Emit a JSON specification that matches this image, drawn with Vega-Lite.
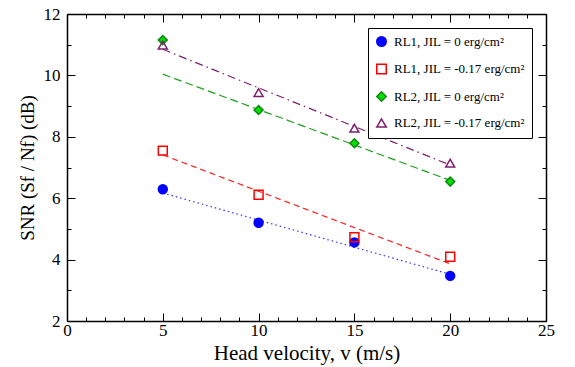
{
  "$schema": "https://vega.github.io/schema/vega-lite/v6.json",
  "autosize": "none",
  "width": 479,
  "height": 307,
  "padding": {"left": 67, "top": 14, "right": 29, "bottom": 46},
  "background": "white",
  "config": {
    "view": {"stroke": null},
    "font": "Liberation Serif",
    "axis": {
      "domainColor": "black",
      "domainWidth": 1.5,
      "tickColor": "black",
      "tickWidth": 1,
      "grid": false,
      "labelFont": "Liberation Serif",
      "labelColor": "black",
      "titleFont": "Liberation Serif",
      "titleColor": "black",
      "titleFontWeight": "normal"
    },
    "legend": {
      "orient": "top-right",
      "offset": 14,
      "strokeColor": "black",
      "strokeWidth": 1,
      "padding": 7,
      "labelFont": "Liberation Serif",
      "labelFontSize": 13,
      "labelColor": "black",
      "labelOffset": 6,
      "rowPadding": 10.5,
      "symbolSize": 90,
      "symbolStrokeWidth": 1.5,
      "fillColor": "white"
    }
  },
  "datasets": {
    "points": [
      {"series": "RL1, JIL = 0 erg/cm²", "v": 5, "snr": 6.29},
      {"series": "RL1, JIL = 0 erg/cm²", "v": 10, "snr": 5.2},
      {"series": "RL1, JIL = 0 erg/cm²", "v": 15, "snr": 4.56},
      {"series": "RL1, JIL = 0 erg/cm²", "v": 20, "snr": 3.47},
      {"series": "RL1, JIL = -0.17 erg/cm²", "v": 5, "snr": 7.55},
      {"series": "RL1, JIL = -0.17 erg/cm²", "v": 10, "snr": 6.11},
      {"series": "RL1, JIL = -0.17 erg/cm²", "v": 15, "snr": 4.73},
      {"series": "RL1, JIL = -0.17 erg/cm²", "v": 20, "snr": 4.09},
      {"series": "RL2, JIL = 0 erg/cm²", "v": 5, "snr": 11.15},
      {"series": "RL2, JIL = 0 erg/cm²", "v": 10, "snr": 8.87},
      {"series": "RL2, JIL = 0 erg/cm²", "v": 15, "snr": 7.79},
      {"series": "RL2, JIL = 0 erg/cm²", "v": 20, "snr": 6.54},
      {"series": "RL2, JIL = -0.17 erg/cm²", "v": 5, "snr": 10.99},
      {"series": "RL2, JIL = -0.17 erg/cm²", "v": 10, "snr": 9.44},
      {"series": "RL2, JIL = -0.17 erg/cm²", "v": 15, "snr": 8.28},
      {"series": "RL2, JIL = -0.17 erg/cm²", "v": 20, "snr": 7.14}
    ],
    "fits": [
      {"fit": "RL1 J0", "v": 5, "snr": 6.17},
      {"fit": "RL1 J0", "v": 20, "snr": 3.52},
      {"fit": "RL1 J017", "v": 5, "snr": 7.41},
      {"fit": "RL1 J017", "v": 20, "snr": 3.86},
      {"fit": "RL2 J0", "v": 5, "snr": 10.04},
      {"fit": "RL2 J0", "v": 20, "snr": 6.58},
      {"fit": "RL2 J017", "v": 5, "snr": 10.85},
      {"fit": "RL2 J017", "v": 20, "snr": 7.08}
    ]
  },
  "layer": [
    {
      "data": {"name": "fits"},
      "mark": {"type": "line", "strokeWidth": 1.2},
      "encoding": {
        "x": {
          "field": "v", "type": "quantitative",
          "scale": {"domain": [0, 25], "nice": false, "zero": false},
          "axis": {
            "orient": "bottom",
            "values": [0, 5, 10, 15, 20, 25],
            "tickSize": -8,
            "labelPadding": 9,
            "labelFontSize": 17,
            "labelFlush": false,
            "labelOverlap": false,
            "title": "Head velocity, v (m/s)",
            "titleFontSize": 21,
            "titlePadding": 4
          }
        },
        "y": {
          "field": "snr", "type": "quantitative",
          "scale": {"domain": [2, 12], "nice": false, "zero": false},
          "axis": {
            "orient": "left",
            "values": [2, 4, 6, 8, 10, 12],
            "tickSize": -8,
            "labelPadding": 15,
            "labelFontSize": 17,
            "labelFlush": false,
            "labelOverlap": false,
            "title": "SNR (Sf / Nf) (dB)",
            "titleFontSize": 19,
            "titlePadding": 6
          }
        },
        "color": {
          "field": "fit", "type": "nominal",
          "scale": {"domain": ["RL1 J0", "RL1 J017", "RL2 J0", "RL2 J017"], "range": ["#3333ff", "#ff2020", "#1f9f1f", "#7d1f6b"]},
          "legend": null
        },
        "strokeDash": {
          "field": "fit", "type": "nominal",
          "scale": {"domain": ["RL1 J0", "RL1 J017", "RL2 J0", "RL2 J017"], "range": [[1.5, 3], [6, 4], [8, 4], [8, 4, 1.5, 4]]},
          "legend": null
        }
      }
    },
    {
      "data": {"name": "points"},
      "mark": {"type": "point", "size": 80, "strokeWidth": 1.5, "opacity": 1},
      "encoding": {
        "x": {
          "field": "v", "type": "quantitative",
          "scale": {"domain": [0, 25], "nice": false, "zero": false},
          "axis": {"orient": "bottom", "values": [0,1,2,3,4,5,6,7,8,9,10,11,12,13,14,15,16,17,18,19,20,21,22,23,24,25], "tickSize": -4, "labels": false, "domain": false, "title": null}
        },
        "y": {
          "field": "snr", "type": "quantitative",
          "scale": {"domain": [2, 12], "nice": false, "zero": false},
          "axis": {"orient": "left", "values": [2,3,4,5,6,7,8,9,10,11,12], "tickSize": -4, "labels": false, "domain": false, "title": null}
        },
        "shape": {
          "field": "series", "type": "nominal",
          "scale": {"domain": ["RL1, JIL = 0 erg/cm²", "RL1, JIL = -0.17 erg/cm²", "RL2, JIL = 0 erg/cm²", "RL2, JIL = -0.17 erg/cm²"], "range": ["circle", "square", "diamond", "triangle-up"]},
          "legend": {"title": null}
        },
        "stroke": {
          "field": "series", "type": "nominal",
          "scale": {"domain": ["RL1, JIL = 0 erg/cm²", "RL1, JIL = -0.17 erg/cm²", "RL2, JIL = 0 erg/cm²", "RL2, JIL = -0.17 erg/cm²"], "range": ["#0000ff", "#ff0000", "#118811", "#7d1f6b"]},
          "legend": {"title": null}
        },
        "fill": {
          "field": "series", "type": "nominal",
          "scale": {"domain": ["RL1, JIL = 0 erg/cm²", "RL1, JIL = -0.17 erg/cm²", "RL2, JIL = 0 erg/cm²", "RL2, JIL = -0.17 erg/cm²"], "range": ["#0000ff", "transparent", "#00e000", "transparent"]},
          "legend": {"title": null}
        }
      }
    },
    {
      "data": {"name": "fits"},
      "mark": {"type": "line", "opacity": 0},
      "encoding": {
        "x": {
          "field": "v", "type": "quantitative",
          "scale": {"domain": [0, 25], "nice": false, "zero": false},
          "axis": {"orient": "top", "values": [0, 5, 10, 15, 20, 25], "tickSize": -8, "labels": false, "title": null}
        },
        "y": {
          "field": "snr", "type": "quantitative",
          "scale": {"domain": [2, 12], "nice": false, "zero": false},
          "axis": {"orient": "right", "values": [2, 4, 6, 8, 10, 12], "tickSize": -8, "labels": false, "title": null}
        },
        "detail": {"field": "fit"}
      }
    },
    {
      "data": {"name": "fits"},
      "mark": {"type": "line", "opacity": 0},
      "encoding": {
        "x": {
          "field": "v", "type": "quantitative",
          "scale": {"domain": [0, 25], "nice": false, "zero": false},
          "axis": {"orient": "top", "values": [0,1,2,3,4,5,6,7,8,9,10,11,12,13,14,15,16,17,18,19,20,21,22,23,24,25], "tickSize": -4, "labels": false, "domain": false, "title": null}
        },
        "y": {
          "field": "snr", "type": "quantitative",
          "scale": {"domain": [2, 12], "nice": false, "zero": false},
          "axis": {"orient": "right", "values": [2,3,4,5,6,7,8,9,10,11,12], "tickSize": -4, "labels": false, "domain": false, "title": null}
        },
        "detail": {"field": "fit"}
      }
    }
  ],
  "resolve": {"axis": {"x": "independent", "y": "independent"}}
}
